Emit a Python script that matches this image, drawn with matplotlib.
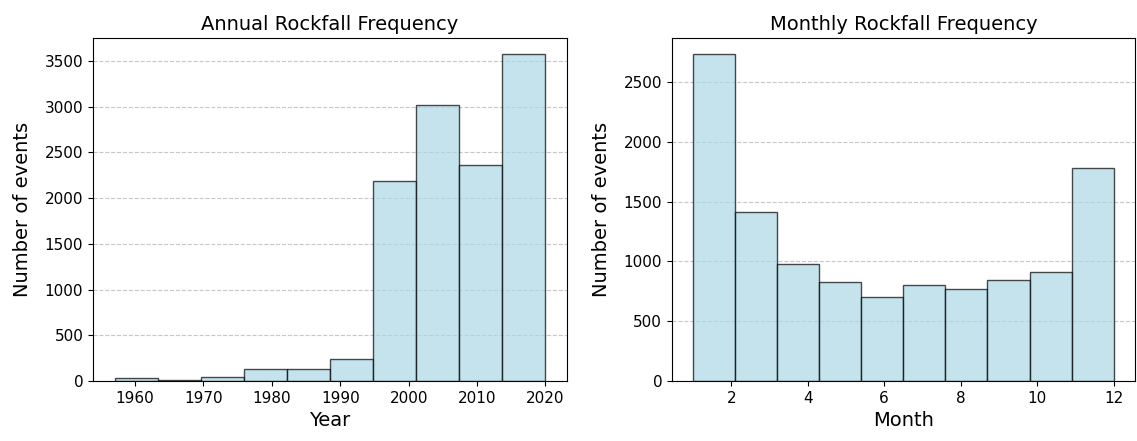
import numpy as np
import matplotlib
matplotlib.use("Agg")
import matplotlib.pyplot as plt

# Annual histogram: 10 bins spanning the year range
year_range = (1957, 2020)
year_counts = [33, 15, 47, 135, 135, 245, 2186, 3018, 2361, 3573]

# Monthly histogram: 10 bins spanning months 1..12
month_range = (1, 12)
month_counts = [2732, 1412, 977, 829, 706, 801, 773, 843, 910, 1780]

fig = plt.figure(figsize=(11.37, 4.41), dpi=100)
ax1 = fig.add_axes([0.0818, 0.136, 0.4169, 0.778])
ax2 = fig.add_axes([0.591, 0.136, 0.407, 0.778])


def draw_hist(ax, rng, counts, title, xlabel):
    edges = np.linspace(rng[0], rng[1], len(counts) + 1)
    centers = (edges[:-1] + edges[1:]) / 2
    ax.hist(centers, bins=edges, weights=counts, color='lightblue',
            edgecolor='black', alpha=0.7)
    ax.set_title(title, fontsize=14)
    ax.set_xlabel(xlabel, fontsize=14)
    ax.set_ylabel('Number of events', fontsize=14, labelpad=9)
    ax.tick_params(labelsize=11)
    ax.grid(axis='y', linestyle='--', alpha=0.7)
    ax.set_axisbelow(True)


draw_hist(ax1, year_range, year_counts, 'Annual Rockfall Frequency', 'Year')
draw_hist(ax2, month_range, month_counts, 'Monthly Rockfall Frequency', 'Month')

fig.savefig('out.png', dpi=100)
